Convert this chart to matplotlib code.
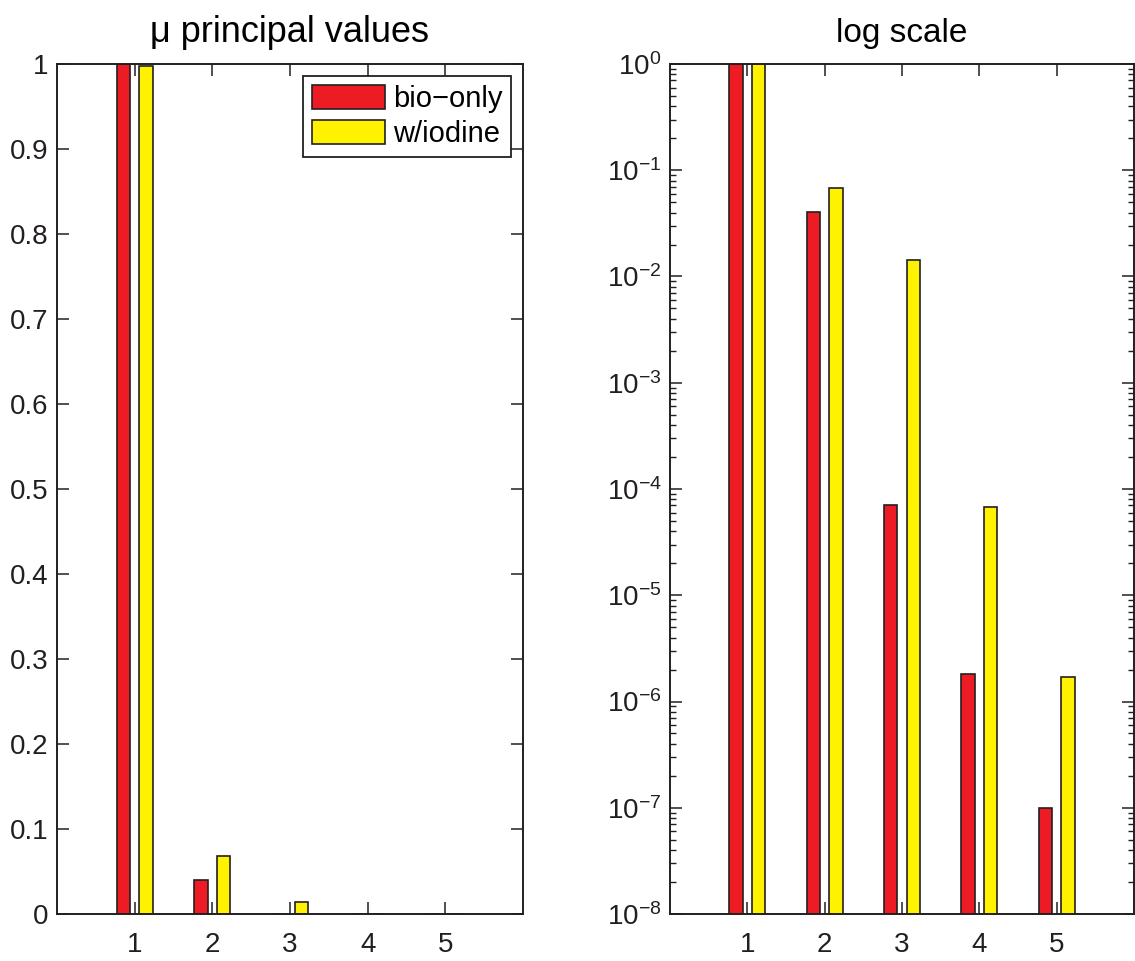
import matplotlib
matplotlib.use("Agg")
import matplotlib.pyplot as plt
import numpy as np
from matplotlib.ticker import FixedLocator, FixedFormatter, LogLocator, NullFormatter, LogFormatterSciNotation

plt.rcParams['font.family'] = ['Liberation Sans', 'DejaVu Sans']
plt.rcParams['mathtext.fontset'] = 'custom'
plt.rcParams['mathtext.rm'] = 'Liberation Sans'
plt.rcParams['mathtext.it'] = 'Liberation Sans'
plt.rcParams['mathtext.default'] = 'regular'

# ---- data ----
components = [1, 2, 3, 4, 5]
bio_only = [1.0, 0.0405, 7.0e-5, 1.8e-6, 1.0e-7]
w_iodine = [0.998, 0.068, 0.0143, 6.7e-5, 1.7e-6]
series_names = ['bio\u2212only', 'w/iodine']
lin_yticks = [0, 0.1, 0.2, 0.3, 0.4, 0.5, 0.6, 0.7, 0.8, 0.9, 1]
lin_yticklabels = ['0', '0.1', '0.2', '0.3', '0.4', '0.5', '0.6', '0.7', '0.8', '0.9', '1']
log_yticks = [1e-8, 1e-7, 1e-6, 1e-5, 1e-4, 1e-3, 1e-2, 1e-1, 1e0]
titles = ['\u03bc principal values', 'log scale']

RED = '#ED1C24'
YELLOW = '#FFF200'
EDGE = '#231F20'

fig = plt.figure(figsize=(11.35, 9.61), dpi=100)
ax1 = fig.add_axes([57/1135, 47/961, 466/1135, 850/961])
ax2 = fig.add_axes([670/1135, 47/961, 464/1135, 850/961])

x = np.array(components, dtype=float)
bw = 0.173
off = 0.145

for ax in (ax1, ax2):
    ax.bar(x - off, bio_only, width=bw, color=RED, edgecolor=EDGE, linewidth=1.2, label=series_names[0])
    ax.bar(x + off, w_iodine, width=bw, color=YELLOW, edgecolor=EDGE, linewidth=1.2, label=series_names[1])
    ax.set_xlim(0, 6)
    ax.set_xticks(components)
    ax.set_xticklabels([str(c) for c in components])
    for s in ax.spines.values():
        s.set_linewidth(1.4)
        s.set_color('#231F20')
    ax.tick_params(which='both', direction='in', top=True, right=True, colors='#231F20',
                   labelcolor='#231F20')
    ax.tick_params(which='major', length=8.5, width=1.1, labelsize=20)
    ax.tick_params(axis='x', which='major', pad=13)
    ax.tick_params(axis='y', which='major', pad=6)

# left: linear
ax1.set_ylim(0, 1)
ax1.yaxis.set_major_locator(FixedLocator(lin_yticks))
ax1.yaxis.set_major_formatter(FixedFormatter(lin_yticklabels))
ax1.set_title(titles[0], fontsize=26, pad=16)
leg = ax1.legend(loc='upper right', bbox_to_anchor=(0.975, 0.986), borderaxespad=0,
                 fontsize=21, handlelength=2.5, handleheight=0.9, handletextpad=0.28,
                 labelspacing=0.24, borderpad=0.3, fancybox=False, framealpha=1,
                 edgecolor='#231F20')
leg.get_frame().set_linewidth(1.3)

# right: log
ax2.set_yscale('log')
ax2.set_ylim(1e-8, 1)
ax2.yaxis.set_major_locator(FixedLocator(log_yticks))
ax2.yaxis.set_major_formatter(LogFormatterSciNotation(base=10))
ax2.yaxis.set_minor_locator(LogLocator(base=10, subs=np.arange(2, 10), numticks=20))
ax2.yaxis.set_minor_formatter(NullFormatter())
ax2.tick_params(which='minor', length=4.5, width=1.0)
ax2.set_title(titles[1], fontsize=24, pad=16)

fig.savefig('out.png', dpi=100)
